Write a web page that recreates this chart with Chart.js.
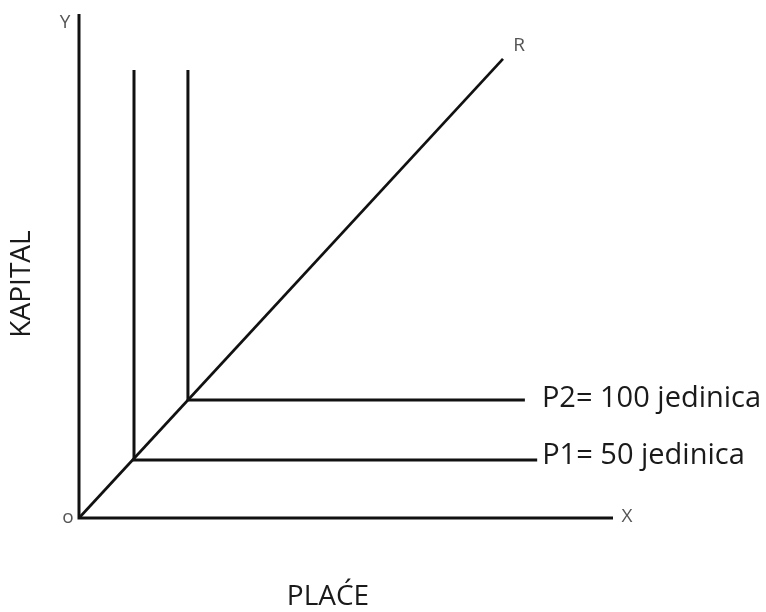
<!DOCTYPE html>
<html>
<head>
<meta charset="utf-8">
<script src="https://cdn.jsdelivr.net/npm/chart.js@4.4.1/dist/chart.umd.min.js"></script>
<style>
  html, body { margin: 0; padding: 0; background: #ffffff; }
  #wrap { width: 766px; height: 612px; }
</style>
</head>
<body>
<div id="wrap"><canvas id="c" width="766" height="612"></canvas></div>
<script>
// ---- data (abstract units: L = labour/wages on X, K = capital on Y) ----
const axisMax = 10;
const isoquantNames = ['P1= 50 jedinica', 'P2= 100 jedinica'];
const cornerL = [1.03, 2.04];   // labour at the kink of each isoquant
const cornerK = [1.15, 2.34];   // capital at the kink of each isoquant
const topK = [8.89, 8.89];      // top end of the vertical arm
const endL = [8.58, 8.35];      // right end of the horizontal arm
const rayEnd = [7.94, 9.11];    // expansion path R end point (L, K)
const axisLetters = ['Y', 'X', 'o', 'R'];
const xTitle = 'PLAĆE';
const yTitle = 'KAPITAL';

// ---- build datasets ----
const lineStyle = {
  showLine: true, fill: false, pointRadius: 0, borderColor: '#111111',
  borderWidth: 3, borderJoinStyle: 'miter', borderCapStyle: 'butt', clip: false
};
const datasets = [];
// axes
datasets.push(Object.assign({ data: [{x: 0, y: axisMax}, {x: 0, y: 0}, {x: axisMax, y: 0}] }, lineStyle));
// expansion path
datasets.push(Object.assign({ data: [{x: 0, y: 0}, {x: rayEnd[0], y: rayEnd[1]}] }, lineStyle, { borderWidth: 2.7 }));
// isoquants
for (let i = 0; i < isoquantNames.length; i++) {
  datasets.push(Object.assign({
    label: isoquantNames[i],
    data: [{x: cornerL[i], y: topK[i]}, {x: cornerL[i], y: cornerK[i]}, {x: endL[i], y: cornerK[i]}]
  }, lineStyle));
}

const textPlugin = {
  id: 'textLabels',
  afterDraw(chart) {
    const ctx = chart.ctx;
    const xs = chart.scales.x, ys = chart.scales.y;
    const px = v => xs.getPixelForValue(v), py = v => ys.getPixelForValue(v);
    ctx.save();
    ctx.textBaseline = 'middle';
    // small letters
    ctx.fillStyle = '#555555';
    ctx.font = '19px "Open Sans"';
    ctx.textAlign = 'center';
    ctx.fillText(axisLetters[0], px(0) - 14, py(axisMax) + 9);
    ctx.fillText(axisLetters[1], px(axisMax) + 14, py(0) - 1);
    ctx.fillText(axisLetters[2], px(0) - 11, py(0));
    ctx.fillText(axisLetters[3], px(rayEnd[0]) + 16, py(rayEnd[1]) - 13);
    // isoquant labels
    ctx.fillStyle = '#1a1a1a';
    ctx.font = '29px "Open Sans"';
    ctx.textAlign = 'left';
    ctx.fillText(isoquantNames[1], px(endL[1]) + 17, py(cornerK[1]) - 1);
    ctx.fillText(isoquantNames[0], px(endL[0]) + 5, py(cornerK[0]) - 4);
    // axis titles
    ctx.font = '28px "Open Sans"';
    ctx.textAlign = 'center';
    ctx.fillText(xTitle, 328, 597);
    ctx.translate(22, 284);
    ctx.rotate(-Math.PI / 2);
    ctx.fillText(yTitle, 0, 0);
    ctx.restore();
  }
};

new Chart(document.getElementById('c'), {
  type: 'scatter',
  data: { datasets },
  options: {
    responsive: false,
    animation: false,
    layout: { padding: { left: 79, top: 14, right: 153, bottom: 94 } },
    plugins: { legend: { display: false }, tooltip: { enabled: false }, title: { display: false } },
    scales: {
      x: { type: 'linear', min: 0, max: axisMax, display: false },
      y: { type: 'linear', min: 0, max: axisMax, display: false }
    }
  },
  plugins: [textPlugin]
});
</script>
</body>
</html>
